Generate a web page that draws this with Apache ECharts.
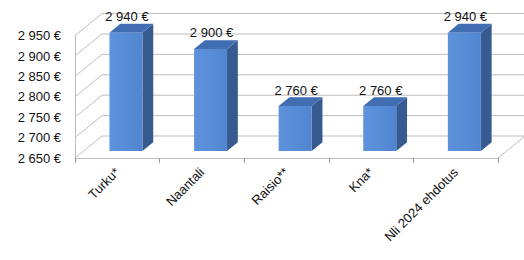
<!DOCTYPE html>
<html lang="fi">
<head>
  <meta charset="UTF-8">
  <script src="https://cdn.jsdelivr.net/npm/echarts@6.0.0/dist/echarts.min.js"></script>
  <title>Hinnat</title>
</head>
<body>
  <div id="chart"></div>
</body>
<style>
  html,body{
    padding: 0;
    margin: 0;
    background: #fff;
  }
  #chart {
    width: 524px;
    height: 260px;
  }
</style>
</html>
<script>
const categories = ['Turku*', 'Naantali', 'Raisio**', 'Kna*', 'Nli 2024 ehdotus']
const prices = [2940, 2900, 2760, 2760, 2940]
const yTicks = [2650, 2700, 2750, 2800, 2850, 2900, 2950]

// 3D look: depth of the box behind the front plane
const DX = 27, DY = -22
const FONT = 'Liberation Sans, Arial, sans-serif'

const euro = (v) => Math.floor(v / 1000) + ' ' + String(v % 1000).padStart(3, '0') + ' €'

const wallItem = (params, api) => {
  const cs = params.coordSys
  const v = api.value(1)
  const y = api.coord([0, v])[1]
  const x0 = cs.x
  const x1 = cs.x + cs.width
  const children = [{
    type: 'polyline',
    shape: { points: [[x0, y], [x0 + DX, y + DY], [x1 + DX, y + DY]] },
    style: { stroke: '#bdbdbd', lineWidth: 1, fill: null }
  }]
  if (params.dataIndex === 0) {
    children.push({
      type: 'line',
      shape: { x1: x1, y1: y, x2: x1 + DX, y2: y + DY },
      style: { stroke: '#bdbdbd', lineWidth: 1 }
    })
  }
  return { type: 'group', children }
}

const barItem = (params, api) => {
  const i = api.value(0)
  const v = api.value(1)
  const base = api.coord([i, yTicks[0]])
  const top = api.coord([i, v])
  const w = api.size([1, 0])[0] * 0.39
  const f = 0.32, b = 0.72
  const fx = base[0] + DX * f - w / 2
  const fy0 = base[1] + DY * f
  const fy1 = top[1] + DY * f
  const ox = DX * (b - f), oy = DY * (b - f)
  return {
    type: 'group',
    children: [
      {
        type: 'polygon',
        shape: { points: [[fx + w, fy0], [fx + w + ox, fy0 + oy], [fx + w + ox, fy1 + oy], [fx + w, fy1]] },
        style: { fill: '#375a91' }
      },
      {
        type: 'polygon',
        shape: { points: [[fx, fy1], [fx + ox, fy1 + oy], [fx + w + ox, fy1 + oy], [fx + w, fy1]] },
        style: { fill: '#416db2' }
      },
      {
        type: 'rect',
        shape: { x: fx, y: fy1, width: w, height: fy0 - fy1 },
        style: {
          fill: new echarts.graphic.LinearGradient(0, 0, 1, 0, [
            { offset: 0, color: '#5e93dc' },
            { offset: 1, color: '#5285d0' }
          ])
        }
      },
      {
        type: 'text',
        style: {
          text: euro(v),
          x: fx + w / 2 + 1,
          y: fy1 - 16,
          align: 'center',
          verticalAlign: 'middle',
          fontSize: 13,
          fontFamily: FONT,
          fill: '#111'
        }
      }
    ]
  }
}

const option = {
  animation: false,
  grid: {
    left: 75,
    right: 26,
    top: 35.6,
    bottom: 102,
    containLabel: false,
    outerBoundsMode: 'none'
  },
  xAxis: {
    type: 'category',
    data: categories,
    boundaryGap: true,
    axisLine: { lineStyle: { color: '#bdbdbd', width: 1 } },
    axisTick: { show: true, length: 5, lineStyle: { color: '#999' } },
    axisLabel: {
      rotate: 45,
      margin: 12,
      interval: 0,
      color: '#111',
      fontSize: 13,
      fontFamily: FONT
    },
    splitLine: { show: false }
  },
  yAxis: {
    type: 'value',
    min: yTicks[0],
    max: yTicks[yTicks.length - 1],
    interval: 50,
    axisLine: { show: true, lineStyle: { color: '#bdbdbd', width: 1 } },
    axisTick: { show: false },
    axisLabel: {
      margin: 14,
      color: '#111',
      fontSize: 13,
      fontFamily: FONT,
      formatter: (v) => euro(v)
    },
    splitLine: { show: false }
  },
  series: [
    {
      type: 'custom',
      name: 'walls',
      silent: true,
      z: 1,
      renderItem: wallItem,
      data: yTicks.map(t => [0, t])
    },
    {
      type: 'custom',
      name: 'hinta',
      z: 2,
      renderItem: barItem,
      data: prices.map((p, i) => [i, p])
    }
  ]
}

const myChart = echarts.init(document.getElementById('chart'), null, { renderer: 'svg' })
myChart.setOption(option)
</script>
